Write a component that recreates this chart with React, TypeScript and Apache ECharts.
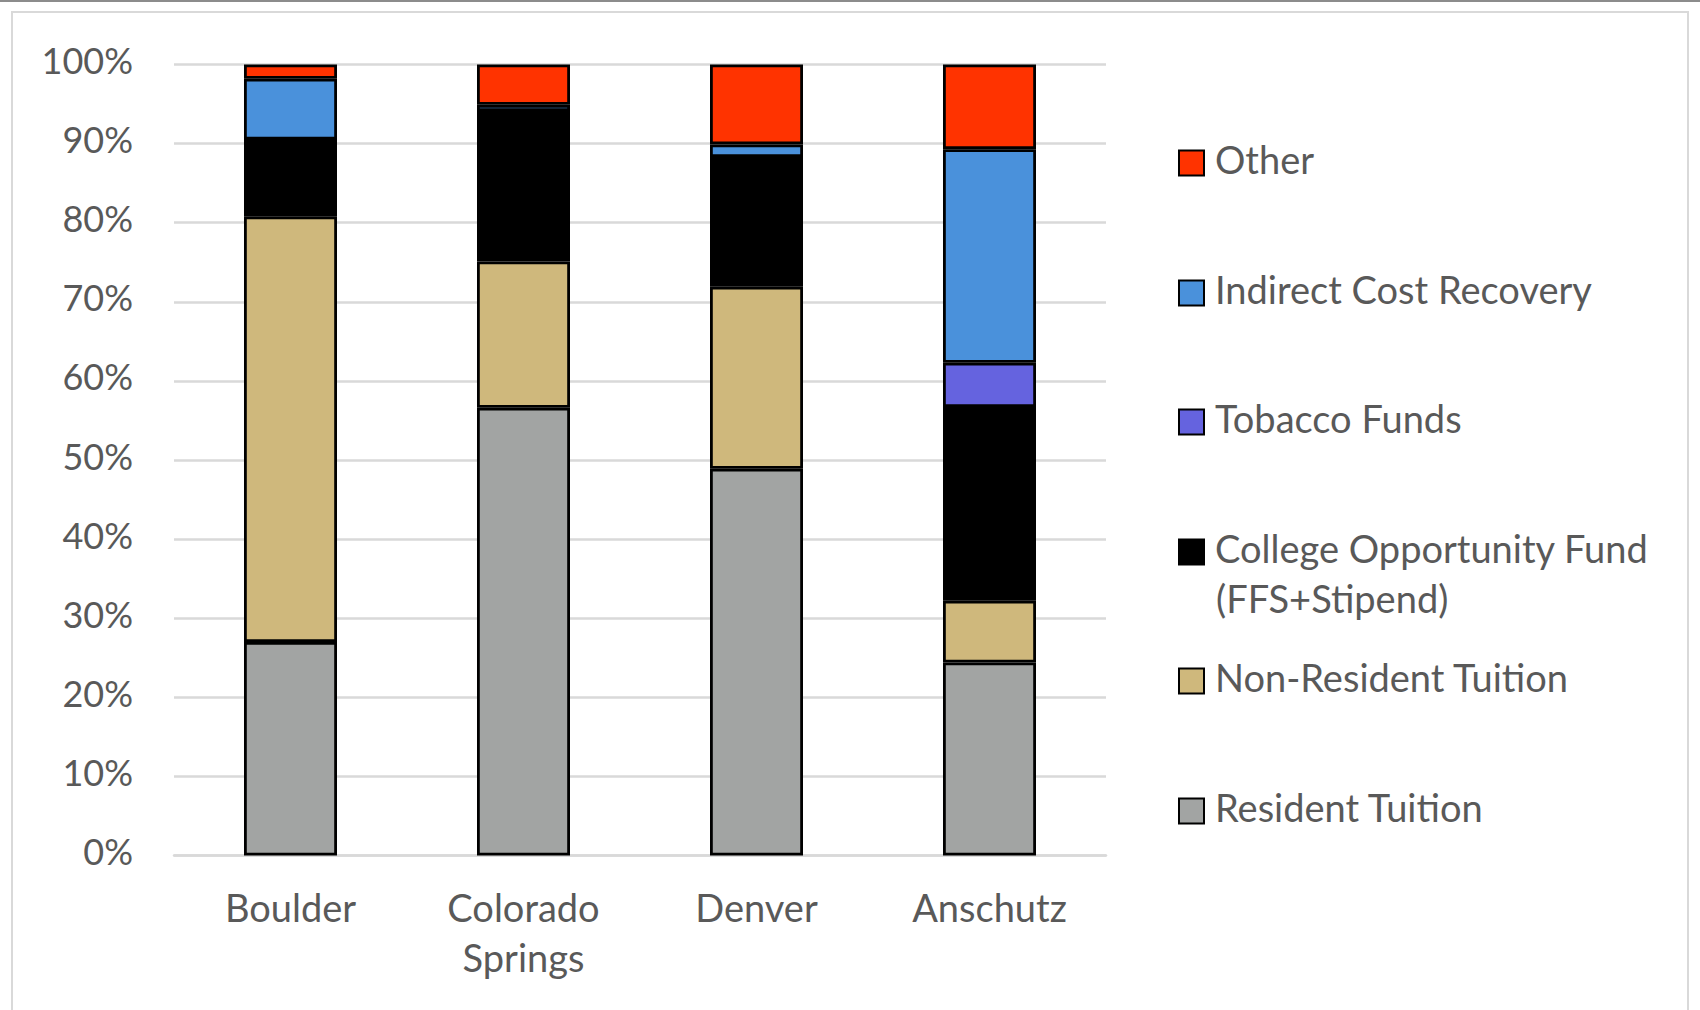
import React, { useEffect, useRef } from "react";
import * as echarts from "echarts";

const categories = ["Boulder", "Colorado\nSprings", "Denver", "Anschutz"];
const seriesNames = [
  "Resident Tuition",
  "Non-Resident Tuition",
  "College Opportunity Fund (FFS+Stipend)",
  "Tobacco Funds",
  "Indirect Cost Recovery",
  "Other",
];
const residentTuition = [27.0, 56.6, 48.9, 24.4];
const nonResidentTuition = [53.8, 18.5, 23.0, 7.8];
const collegeOpportunityFund = [9.7, 19.0, 16.4, 24.5];
const tobaccoFunds = [0, 0, 0, 5.6];
const indirectCostRecovery = [7.7, 0.8, 1.6, 27.0];
const other = [1.8, 5.1, 10.1, 10.7];
const seriesColors = ["#A2A4A3", "#CFB87C", "#000000", "#6563DF", "#4A91DB", "#FF3300"];
const legendOrder = [5, 4, 3, 2, 1, 0];
const legendCenters = [163, 293, 422, 552, 681, 811];

const FONT = "Lato, 'Open Sans', sans-serif";
const TXT = "#595959";

export default function App() {
  const ref = useRef<HTMLDivElement>(null);
  useEffect(() => {
    if (!ref.current) return;
    const chart = echarts.init(ref.current, undefined, { renderer: "svg" });
    const values = [
      residentTuition,
      nonResidentTuition,
      collegeOpportunityFund,
      tobaccoFunds,
      indirectCostRecovery,
      other,
    ];
    const series = seriesNames.map((name, i) => ({
      name,
      type: "bar",
      stack: "total",
      barWidth: 93,
      data: values[i],
      itemStyle: { color: seriesColors[i], borderColor: "#000", borderWidth: 2.8 },
      emphasis: { disabled: true },
    }));
    const legends = legendOrder.map((si, k) => ({
      show: true,
      orient: "vertical",
      left: 1178,
      top: legendCenters[k] - 26.5,
      padding: 0,
      icon: "rect",
      itemWidth: 25,
      itemHeight: 25,
      selectedMode: false,
      data: [seriesNames[si]],
      formatter: (n: string) => n.replace(" (FFS+Stipend)", "") + "\n{s| }",
      textStyle: {
        fontFamily: FONT,
        fontSize: 38,
        color: TXT,
        lineHeight: 44,
        padding: [0, 0, 0, 6],
        rich: { s: { fontSize: 2, lineHeight: 9 } },
      },
    }));
    chart.setOption({
      animation: false,
      backgroundColor: "#fff",
      textStyle: { fontFamily: FONT },
      grid: { left: 174, right: 594, top: 64.5, bottom: 154.5, containLabel: false },
      legend: legends,
      graphic: [
        {
          type: "rect",
          shape: { x: 12, y: 12, width: 1676, height: 1010 },
          style: { fill: "none", stroke: "#D9D9D9", lineWidth: 2 },
          silent: true,
        },
        {
          type: "line",
          shape: { x1: 0, y1: 1, x2: 1700, y2: 1 },
          style: { stroke: "#8C8C8C", lineWidth: 2 },
          silent: true,
        },
        {
          type: "text",
          left: 1216,
          top: 576,
          style: { text: "(FFS+Stipend)", fontFamily: FONT, fontSize: 38, fill: TXT, lineHeight: 44 },
          silent: true,
        },
      ],
      xAxis: {
        type: "category",
        data: categories,
        axisTick: { show: false },
        axisLine: { lineStyle: { color: "#D9D9D9", width: 2.5 } },
        axisLabel: { color: TXT, fontFamily: FONT, fontSize: 38, lineHeight: 50, margin: 26 },
      },
      yAxis: {
        type: "value",
        min: 0,
        max: 100,
        interval: 10,
        axisLine: { show: false },
        axisTick: { show: false },
        splitLine: { lineStyle: { color: "#D9D9D9", width: 2.5 } },
        axisLabel: {
          color: TXT,
          fontFamily: FONT,
          fontSize: 36,
          margin: 41,
          verticalAlign: "bottom",
          lineHeight: 9,
          formatter: "{value}%",
        },
      },
      series,
    });
    return () => chart.dispose();
  }, []);
  return (
    <div
      ref={ref}
      style={{ position: "fixed", left: 0, top: 0, width: 1700, height: 1010, background: "#fff" }}
    />
  );
}
